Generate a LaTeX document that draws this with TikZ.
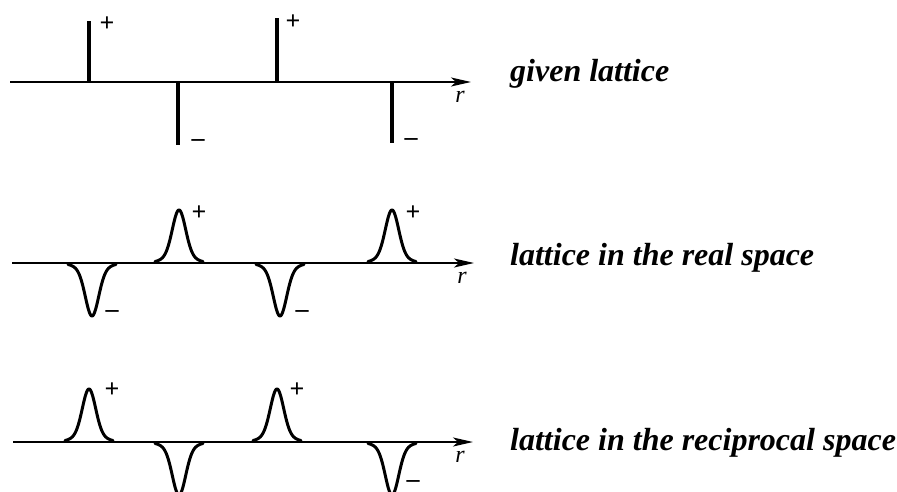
\documentclass[tikz,border=0pt]{standalone}
\usepackage{fontspec}
\setmainfont{Liberation Serif}
\usetikzlibrary{arrows.meta}
\begin{document}
\begin{tikzpicture}[x=1pt,y=-1pt,
  axis/.style={line width=2pt,-{Stealth[length=20pt,width=9pt,inset=5pt]}},
  spike/.style={line width=3.5pt},
  curve/.style={line width=3pt,line join=round,line cap=round},
  sign/.style={inner sep=0pt,font=\fontsize{26}{26}\selectfont\bfseries},
  rlab/.style={inner sep=0pt,font=\fontsize{24}{24}\selectfont\itshape},
  caption/.style={anchor=base west,inner sep=0pt,font=\fontsize{32}{38}\selectfont\bfseries\itshape}]
\useasboundingbox (0,0) rectangle (897,492);
% ---------- row 1: given lattice ----------
\coordinate (a1s) at (10,82);
\coordinate (a1e) at (471,82);
\draw[axis] (a1s) -- (a1e);
\coordinate (s1b) at (89,82);  \coordinate (s1t) at (89,21);
\coordinate (s2b) at (178,82); \coordinate (s2t) at (178,145);
\coordinate (s3b) at (277,82); \coordinate (s3t) at (277,18);
\coordinate (s4b) at (392,82); \coordinate (s4t) at (392,143);
\draw[spike] (s1b) -- (s1t);
\draw[spike] (s2b) -- (s2t);
\draw[spike] (s3b) -- (s3t);
\draw[spike] (s4b) -- (s4t);
\node[sign] (p11) at (107,24) {+};
\node[sign] (m11) at (198,143) {–};
\node[sign] (p12) at (293,22) {+};
\node[sign] (m12) at (411,142) {–};
\node[rlab] (r1) at (460,97) {r};
\node[caption] (c1) at (510,82) {given lattice};
% ---------- row 2: real space ----------
\coordinate (a2s) at (12,263);
\coordinate (a2e) at (474,263);
\draw[axis] (a2s) -- (a2e);
\foreach \c/\s in {92/-1,179/1,280/-1,392/1}{
  \draw[curve] plot[domain=-24:24,samples=90,smooth] ({\c+\x},{263-\s*53*(0.85*exp(-(\x*\x)/84.5)+0.15*exp(-(\x*\x)/338))});
}
\node[sign] (p21) at (199,213) {+};
\node[sign] (m21) at (112,314) {–};
\node[sign] (p22) at (413,213) {+};
\node[sign] (m22) at (302,314) {–};
\node[rlab] (r2) at (462,278) {r};
\node[caption] (c2) at (510,265) {lattice in the real space};
% ---------- row 3: reciprocal space ----------
\coordinate (a3s) at (13,442);
\coordinate (a3e) at (473,442);
\draw[axis] (a3s) -- (a3e);
\foreach \c/\s in {89/1,179/-1,277/1,392/-1}{
  \draw[curve] plot[domain=-24:24,samples=90,smooth] ({\c+\x},{442-\s*53*(0.85*exp(-(\x*\x)/84.5)+0.15*exp(-(\x*\x)/338))});
}
\node[sign] (p31) at (112,390) {+};
\node[sign] (p32) at (297,390) {+};
\node[sign] (m31) at (413,484) {–};
\node[rlab] (r3) at (460,457) {r};
\node[caption] (c3) at (510,450) {lattice in the reciprocal space};
\end{tikzpicture}
\end{document}
